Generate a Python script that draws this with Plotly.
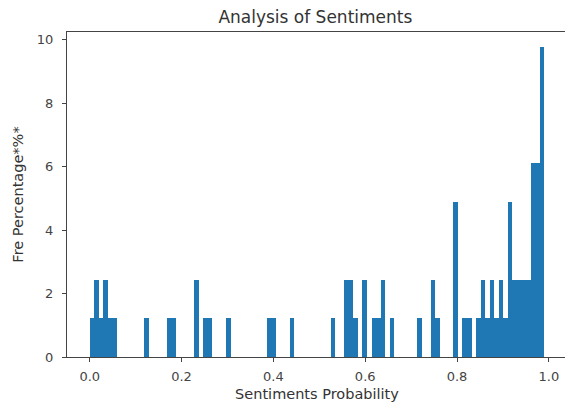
import plotly.graph_objects as go

# histogram bins (100 bins over 0..0.99), only non-empty ones
bin_centers = [0.00495, 0.01485, 0.02475, 0.03465, 0.04455, 0.05445,
               0.12375, 0.17325, 0.18315, 0.23265, 0.25245, 0.26235,
               0.30195, 0.39105, 0.40095, 0.44055, 0.52965, 0.55935,
               0.56925, 0.57915, 0.59895, 0.61875, 0.62865, 0.63855,
               0.65835, 0.71775, 0.74745, 0.75735, 0.79695, 0.81675,
               0.82665, 0.84645, 0.85635, 0.86625, 0.87615, 0.88605,
               0.89595, 0.90585, 0.91575, 0.92565, 0.93555, 0.94545,
               0.95535, 0.96525, 0.97515, 0.98505]
freq_pct = [1.22, 2.44, 1.22, 2.44, 1.22, 1.22,
            1.22, 1.22, 1.22, 2.44, 1.22, 1.22,
            1.22, 1.22, 1.22, 1.22, 1.22, 2.44,
            2.44, 1.22, 2.44, 1.22, 1.22, 2.44,
            1.22, 1.22, 2.44, 1.22, 4.88, 1.22,
            1.22, 1.22, 2.44, 1.22, 2.44, 1.22,
            2.44, 1.22, 4.88, 2.44, 2.44, 2.44,
            2.44, 6.10, 6.10, 9.76]
bin_width = 0.0099

x_ticks = [0.0, 0.2, 0.4, 0.6, 0.8, 1.0]
y_ticks = [0, 2, 4, 6, 8, 10]

font = "DejaVu Sans"
grey = "#444444"

fig = go.Figure()
fig.add_trace(go.Bar(
    x=bin_centers, y=freq_pct, width=bin_width,
    marker=dict(color="#1f77b4", line=dict(width=0)),
))

# page body has an 8px margin, so the figure is 8px smaller each way
fig.update_layout(
    width=565, height=404,
    margin=dict(l=59, r=6, t=24, b=55),
    plot_bgcolor="white", paper_bgcolor="white",
    showlegend=False, bargap=0,
    font=dict(family=font, size=13, color=grey),
    title=dict(text="Analysis of Sentiments", x=0.544, xanchor="center",
               y=0.978, yanchor="middle",
               font=dict(family=font, size=17, color="#333333")),
)
fig.update_xaxes(
    range=[-0.0495, 1.0395], tickvals=x_ticks,
    ticktext=["0.0", "0.2", "0.4", "0.6", "0.8", "1.0"],
    ticks="outside", ticklen=4, tickcolor=grey, ticklabelstandoff=3,
    showgrid=False, zeroline=False,
    showline=True, linecolor=grey, linewidth=1, mirror=True,
    title=dict(text="Sentiments Probability", standoff=6,
               font=dict(family=font, size=14.5, color="#333333")),
)
fig.update_yaxes(
    range=[0, 10.244], tickvals=y_ticks,
    ticks="outside", ticklen=4, tickcolor=grey, ticklabelstandoff=6,
    showgrid=False, zeroline=False,
    showline=True, linecolor=grey, linewidth=1, mirror=True,
    title=dict(text="Fre Percentage*%*", standoff=9,
               font=dict(family=font, size=14.5, color="#333333")),
)

fig.write_html("out.html")
